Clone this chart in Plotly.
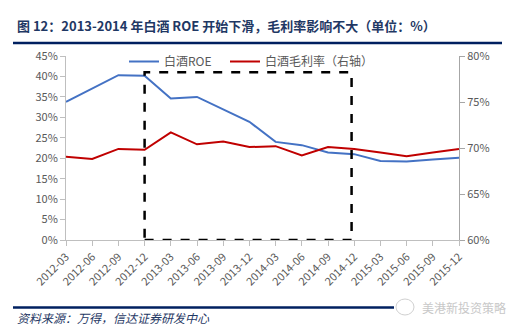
import plotly.graph_objects as go

quarters = ["2012-03", "2012-06", "2012-09", "2012-12", "2013-03", "2013-06", "2013-09", "2013-12",
            "2014-03", "2014-06", "2014-09", "2014-12", "2015-03", "2015-06", "2015-09", "2015-12"]
roe = [33.8, 37.1, 40.3, 40.2, 34.6, 35.0, 32.0, 28.9, 24.0, 23.2, 21.4, 21.0, 19.3, 19.2, 19.7, 20.1]
gross_margin = [69.05, 68.8, 69.9, 69.8, 71.7, 70.4, 70.7, 70.1, 70.2, 69.2, 70.1, 69.9, 69.5, 69.1, 69.5, 69.9]

left_ticks = [0, 5, 10, 15, 20, 25, 30, 35, 40, 45]
right_ticks = [60, 65, 70, 75, 80]

W, H = 519, 331
L, R, T, B = 66, 60, 56, 91
pw, ph = W - L - R, H - T - B

def px(x):
    return (x - L) / pw

def py(y):
    return (H - B - y) / ph

FONT = "Noto Sans CJK SC, Liberation Sans, sans-serif"
NAVY = "#1F3864"
GRAY = "#595959"

fig = go.Figure()
fig.add_trace(go.Scatter(x=list(range(len(quarters))), y=roe, mode="lines", name="白酒ROE",
                         line=dict(color="#4472C4", width=2), legend="legend"))
fig.add_trace(go.Scatter(x=list(range(len(quarters))), y=gross_margin, mode="lines", name="白酒毛利率（右轴）",
                         line=dict(color="#C00000", width=2), yaxis="y2", legend="legend2"))

leg_common = dict(orientation="h", xanchor="left", yanchor="top",
                  font=dict(size=12, color=GRAY, family=FONT), bgcolor="rgba(0,0,0,0)",
                  itemwidth=30)

fig.update_layout(
    width=W, height=H,
    margin=dict(l=L, r=R, t=T, b=B),
    paper_bgcolor="white", plot_bgcolor="white",
    font=dict(family=FONT, size=11, color=GRAY),
    showlegend=True,
    legend=dict(x=px(124), y=py(47), **leg_common),
    legend2=dict(x=px(225), y=py(47), **leg_common),
    xaxis=dict(range=[0, len(quarters) - 1], tickmode="array",
               tickvals=list(range(len(quarters))), ticktext=quarters,
               tickangle=-45, showgrid=False, zeroline=False,
               showline=True, linecolor="#BFBFBF", linewidth=1,
               ticks="outside", ticklen=5, tickcolor="#BFBFBF",
               tickfont=dict(size=11, color=GRAY)),
    yaxis=dict(range=[0, 45], tickmode="array", tickvals=left_ticks,
               ticktext=[f"{v}%" for v in left_ticks], showgrid=False, zeroline=False,
               showline=True, linecolor="#BFBFBF", linewidth=1,
               ticks="outside", ticklen=5, tickcolor="#BFBFBF",
               tickfont=dict(size=11, color=GRAY)),
    yaxis2=dict(range=[60, 80], tickmode="array", tickvals=right_ticks,
                ticktext=[f"{v}%" for v in right_ticks], overlaying="y", side="right",
                showgrid=False, zeroline=False,
                showline=True, linecolor="#A6A6A6", linewidth=1,
                ticks="outside", ticklen=5, tickcolor="#A6A6A6",
                tickfont=dict(size=11, color=GRAY)),
)

# dashed highlight box (2013-2014 period)
box_x = [3, 10.9]
box_y = [0, 41]
fig.add_shape(type="rect", xref="x", yref="y", x0=box_x[0], x1=box_x[1], y0=box_y[0], y1=box_y[1],
              line=dict(color="black", width=2.5, dash="dash"), fillcolor="rgba(0,0,0,0)", layer="above")

# header / footer rules
fig.add_shape(type="line", xref="paper", yref="paper", x0=px(13), x1=px(502), y0=py(43), y1=py(43),
              line=dict(color="#002060", width=2.5))
fig.add_shape(type="line", xref="paper", yref="paper", x0=px(13), x1=px(394), y0=py(307.5), y1=py(307.5),
              line=dict(color="#002060", width=2.5))

fig.add_annotation(xref="paper", yref="paper", x=px(15), y=py(25), xanchor="left", yanchor="middle",
                   text="<b>图 12：2013-2014 年白酒 ROE 开始下滑，毛利率影响不大（单位：%）</b>",
                   showarrow=False, font=dict(size=13, color=NAVY, family=FONT))
fig.add_annotation(xref="paper", yref="paper", x=px(15), y=py(317), xanchor="left", yanchor="middle",
                   text="<i>资料来源：万得，信达证券研发中心</i>",
                   showarrow=False, font=dict(size=12, color=NAVY, family=FONT))
fig.add_annotation(xref="paper", yref="paper", x=px(420), y=py(307), xanchor="left", yanchor="middle",
                   text="美港新投资策略", showarrow=False,
                   font=dict(size=12, color="#C8C8C8", family=FONT))
fig.add_shape(type="circle", xref="paper", yref="paper", x0=px(396), x1=px(414), y0=py(299), y1=py(315),
              line=dict(color="#D0D0D0", width=1))

fig.write_html("out.html")
